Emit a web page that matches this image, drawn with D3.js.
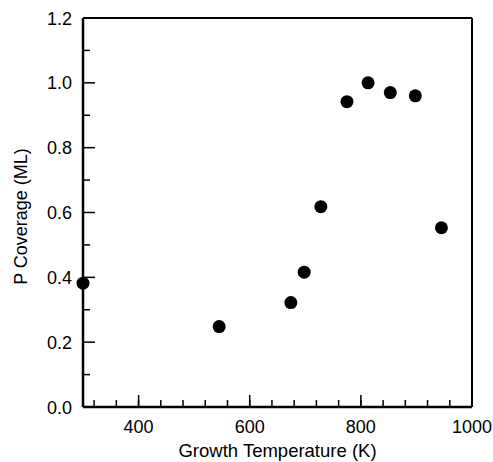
<!DOCTYPE html>
<html>
<head>
<meta charset="utf-8">
<script src="https://cdn.jsdelivr.net/npm/d3@7"></script>
<style>
  body { margin: 0; background: #fff; }
  text { font-family: "Liberation Sans", Arial, sans-serif; fill: #000; }
</style>
</head>
<body>
<div id="chart"></div>
<script>
// growth temperature (K) and P coverage (ML)
const temps = [300, 545, 674, 698, 728, 775, 813, 853, 898, 945];
const coverage = [0.382, 0.248, 0.322, 0.416, 0.618, 0.942, 1.0, 0.970, 0.960, 0.553];

const xTicks = [400, 600, 800, 1000];
const yTicks = [0.0, 0.2, 0.4, 0.6, 0.8, 1.0, 1.2];
const xMinor = d3.range(320, 1000, 40);
const yMinor = d3.range(0.1, 1.2, 0.2);

const W = 493, H = 462;
const margin = {top: 18, right: 21, bottom: 55, left: 83};
const width = W - margin.left - margin.right;
const height = H - margin.top - margin.bottom;

const svg = d3.select("#chart").append("svg")
    .attr("width", W)
    .attr("height", H)
    .append("g")
    .attr("transform", `translate(${margin.left},${margin.top})`);

const x = d3.scaleLinear().domain([300, 1000]).range([0, width]);
const y = d3.scaleLinear().domain([0, 1.2]).range([height, 0]);

// minor ticks (inward)
svg.selectAll(".xminor").data(xMinor).enter().append("line")
    .attr("x1", d => x(d)).attr("x2", d => x(d))
    .attr("y1", height).attr("y2", height - 7)
    .attr("stroke", "#000").attr("stroke-width", 1.5);
svg.selectAll(".yminor").data(yMinor).enter().append("line")
    .attr("y1", d => y(d)).attr("y2", d => y(d))
    .attr("x1", 0).attr("x2", 7)
    .attr("stroke", "#000").attr("stroke-width", 1.5);

// major ticks
svg.selectAll(".xmajor").data(xTicks).enter().append("line")
    .attr("x1", d => x(d)).attr("x2", d => x(d))
    .attr("y1", height).attr("y2", height - 12)
    .attr("stroke", "#000").attr("stroke-width", 1.5);
svg.selectAll(".ymajor").data(yTicks).enter().append("line")
    .attr("y1", d => y(d)).attr("y2", d => y(d))
    .attr("x1", 0).attr("x2", 12)
    .attr("stroke", "#000").attr("stroke-width", 1.5);

// frame: left and bottom thicker
svg.append("line").attr("x1", 0).attr("x2", 0).attr("y1", 0).attr("y2", height)
    .attr("stroke", "#000").attr("stroke-width", 2.5);
svg.append("line").attr("x1", 0).attr("x2", width).attr("y1", height).attr("y2", height)
    .attr("stroke", "#000").attr("stroke-width", 2.5);
svg.append("line").attr("x1", 0).attr("x2", width).attr("y1", 0).attr("y2", 0)
    .attr("stroke", "#000").attr("stroke-width", 2);
svg.append("line").attr("x1", width).attr("x2", width).attr("y1", 0).attr("y2", height)
    .attr("stroke", "#000").attr("stroke-width", 2);

// tick labels
svg.selectAll(".xlab").data(xTicks).enter().append("text")
    .attr("x", d => x(d)).attr("y", height + 26)
    .attr("text-anchor", "middle")
    .style("font-size", "18px")
    .text(d => d);
svg.selectAll(".ylab").data(yTicks).enter().append("text")
    .attr("x", -11).attr("y", d => y(d) + 6.5)
    .attr("text-anchor", "end")
    .style("font-size", "18px")
    .text(d => d3.format(".1f")(d));

// axis titles
svg.append("text")
    .attr("x", width / 2).attr("y", height + 50)
    .attr("text-anchor", "middle")
    .style("font-size", "18.5px")
    .text("Growth Temperature (K)");
svg.append("text")
    .attr("transform", `translate(${-56},${height / 2 + 4}) rotate(-90)`)
    .attr("text-anchor", "middle")
    .style("font-size", "18px")
    .text("P Coverage (ML)");

// points
svg.selectAll("circle").data(temps).enter().append("circle")
    .attr("cx", d => x(d))
    .attr("cy", (d, i) => y(coverage[i]))
    .attr("r", 6.5)
    .attr("fill", "#000");
</script>
</body>
</html>
